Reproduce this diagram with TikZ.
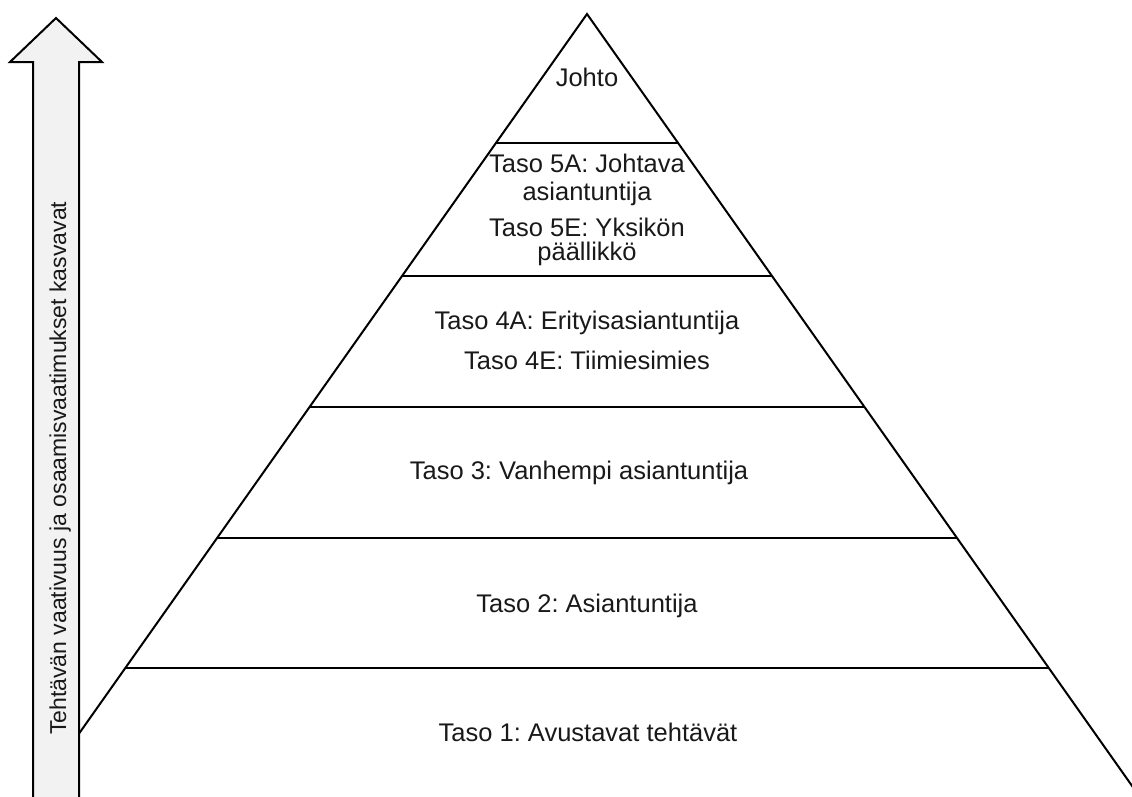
\documentclass[tikz,border=0pt]{standalone}
\usepackage{fontspec}
\setmainfont{Liberation Sans}
\frenchspacing
\begin{document}
\begin{tikzpicture}[x=1pt,y=-1pt,
  edge/.style={line width=2pt, black},
  bigarrow/.style={line width=2pt, draw=black, fill=black!5},
  lbl/.style={anchor=base, inner sep=0pt, text=black!90, font=\fontsize{25.5}{30}\selectfont},
]
\useasboundingbox (0,0) rectangle (1132,796);
\clip (0,0) rectangle (1132,796);

% pyramid outline: apex and the two feet
\coordinate (apex) at (587,14);
\coordinate (footL) at (79,733.6);
\coordinate (footR) at (1142,800);
\draw[edge] (footL) -- (apex) -- (footR);

% horizontal level dividers (half-width grows 0.706 per unit of height)
\coordinate (l1) at (495.9,143);  \coordinate (r1) at (678.1,143);
\coordinate (l2) at (402.0,276);  \coordinate (r2) at (772.0,276);
\coordinate (l3) at (309.5,407);  \coordinate (r3) at (864.5,407);
\coordinate (l4) at (217.1,538);  \coordinate (r4) at (956.9,538);
\coordinate (l5) at (125.3,668);  \coordinate (r5) at (1048.7,668);
\foreach \i in {1,...,5} \draw[edge] (l\i) -- (r\i);

% level labels
\node[lbl] (johto) at (587,86) {Johto};
\node[lbl] (t5a1) at (587,172) {Taso 5A: Johtava};
\node[lbl] (t5a2) at (587,200) {asiantuntija};
\node[lbl] (t5e1) at (587,236) {Taso 5E: Yksikön};
\node[lbl] (t5e2) at (587,260) {päällikkö};
\node[lbl] (t4a) at (587,329) {Taso 4A: Erityisasiantuntija};
\node[lbl] (t4e) at (587,369) {Taso 4E: Tiimiesimies};
\node[lbl] (t3) at (579,479) {Taso 3: Vanhempi asiantuntija};
\node[lbl] (t2) at (587,612) {Taso 2: Asiantuntija};
\node[lbl] (t1) at (588,741) {Taso 1: Avustavat tehtävät};

% upward arrow at the left
\draw[bigarrow] (33,800) -- (33,62) -- (10,62) -- (56,18) -- (102,62)
  -- (79,62) -- (79,800) -- cycle;
\node[lbl, anchor=base west, rotate=90, font=\fontsize{23}{28}\selectfont]
  (axis) at (66,735) {Tehtävän vaativuus ja osaamisvaatimukset kasvavat};
\end{tikzpicture}
\end{document}
